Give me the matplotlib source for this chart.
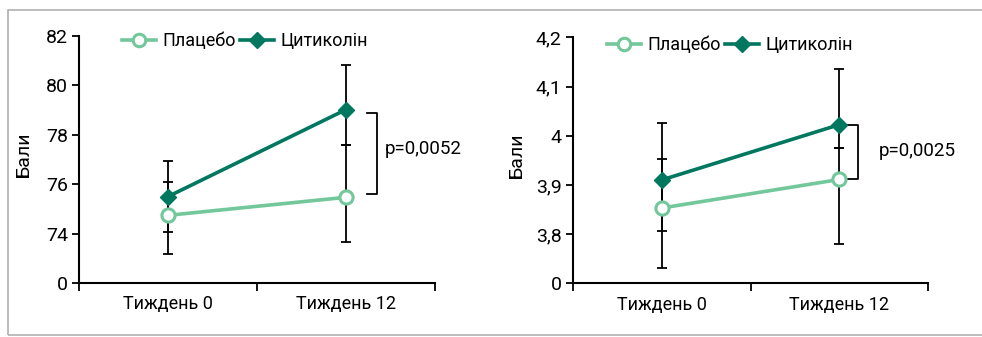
import matplotlib
matplotlib.use("Agg")
import matplotlib.pyplot as plt
from matplotlib.lines import Line2D
from matplotlib.patches import Rectangle

plt.rcParams['font.family'] = ['Roboto', 'DejaVu Sans']

weeks = ['Тиждень 0', 'Тиждень 12']
names = ['Плацебо', 'Цитиколін']

# panel 1
placebo_1 = [74.74, 75.47]
placebo_1_lo = [73.17, 73.64]
placebo_1_hi = [76.08, 77.57]
citi_1 = [75.5, 79.02]
citi_1_lo = [74.07, 77.57]
citi_1_hi = [76.95, 80.83]
yticks_1 = [72, 74, 76, 78, 80, 82]
ylabels_1 = ['0', '74', '76', '78', '80', '82']
p_1 = 'p=0,0052'
bracket_1 = [75.61, 78.88]

# panel 2
placebo_2 = [3.853, 3.911]
placebo_2_lo = [3.732, 3.78]
placebo_2_hi = [3.953, 3.975]
citi_2 = [3.91, 4.0225]
citi_2_lo = [3.8055, 3.975]
citi_2_hi = [4.025, 4.1365]
yticks_2 = [3.7, 3.8, 3.9, 4.0, 4.1, 4.2]
ylabels_2 = ['0', '3,8', '3,9', '4', '4,1', '4,2']
p_2 = 'p=0,0025'
bracket_2 = [3.911, 4.0225]

c_pl = '#72c79b'
c_ci = '#00775f'

W, H = 982, 337
fig = plt.figure(figsize=(W / 100, H / 100), dpi=100)
fig.patches.append(Rectangle((8 / W, 2 / H), 1.0, 325 / H, transform=fig.transFigure,
                             fill=False, edgecolor='#b0b0b0', lw=1.2))


def panel(rect, pl, pl_lo, pl_hi, ci, ci_lo, ci_hi, yt, yl, ptxt, br, brx, ptxt_xy, leg_xy, ylab_x):
    ax = fig.add_axes(rect)
    xs = [0.5, 1.5]
    for vals, lo, hi in [(pl, pl_lo, pl_hi), (ci, ci_lo, ci_hi)]:
        err = [[v - l for v, l in zip(vals, lo)], [h - v for v, h in zip(vals, hi)]]
        ax.errorbar(xs, vals, yerr=err, fmt='none', ecolor='black', elinewidth=1.3,
                    capsize=3.5, capthick=1.3, zorder=2)
    ax.plot(xs, pl, color=c_pl, lw=2.6, marker='o', ms=9.5, mfc='white', mec=c_pl, mew=2.2, zorder=4)
    ax.plot(xs, ci, color=c_ci, lw=2.6, marker='D', ms=8.5, mfc=c_ci, mec=c_ci, zorder=3)
    # bracket
    x0, x1 = brx
    ax.plot([x0, x1, x1, x0], [br[1], br[1], br[0], br[0]], color='black', lw=1.3)
    ax.text(ptxt_xy[0], ptxt_xy[1], ptxt, fontsize=13.5, va='center', ha='left')
    ax.set_xlim(0, 2)
    ax.set_ylim(yt[0], yt[-1])
    ax.set_yticks(yt)
    ax.set_yticklabels(yl, fontsize=14)
    ax.set_xticks([0, 1, 2])
    ax.set_xticklabels([])
    ax.set_xticks(xs, minor=True)
    ax.set_xticklabels(weeks, minor=True, fontsize=13)
    ax.tick_params(axis='x', which='minor', length=0, pad=9)
    ax.tick_params(axis='x', which='major', direction='out', length=6, width=1.3)
    ax.tick_params(axis='y', direction='out', length=5, width=1.3, pad=3)
    for s in ['top', 'right']:
        ax.spines[s].set_visible(False)
    for s in ['left', 'bottom']:
        ax.spines[s].set_linewidth(1.5)
    ax.set_ylabel('Бали', fontsize=14)
    ax.yaxis.set_label_coords(ylab_x, 0.52)
    handles = [
        Line2D([], [], color=c_pl, lw=2.6, marker='o', ms=9, mfc='white', mec=c_pl, mew=2.2),
        Line2D([], [], color=c_ci, lw=2.6, marker='D', ms=8, mfc=c_ci, mec=c_ci),
    ]
    fig.legend(handles, names, loc='center left', bbox_to_anchor=(leg_xy[0] / W, 1 - leg_xy[1] / H),
               ncol=2, frameon=False, fontsize=13, borderpad=0, handlelength=1.9,
               handletextpad=0.35, columnspacing=0.2, borderaxespad=0)
    return ax


panel([79 / W, 1 - 283 / H, 356 / W, 247 / H], placebo_1, placebo_1_lo, placebo_1_hi,
      citi_1, citi_1_lo, citi_1_hi, yticks_1, ylabels_1, p_1, bracket_1,
      (1.618, 1.674), (1.72, 77.44), (122, 41), -0.13)
panel([572.7 / W, 1 - 283.3 / H, 355.6 / W, 246 / H], placebo_2, placebo_2_lo, placebo_2_hi,
      citi_2, citi_2_lo, citi_2_hi, yticks_2, ylabels_2, p_2, bracket_2,
      (1.537, 1.603), (1.723, 3.969), (607, 45), -0.134)

fig.savefig('out.png', dpi=100)
